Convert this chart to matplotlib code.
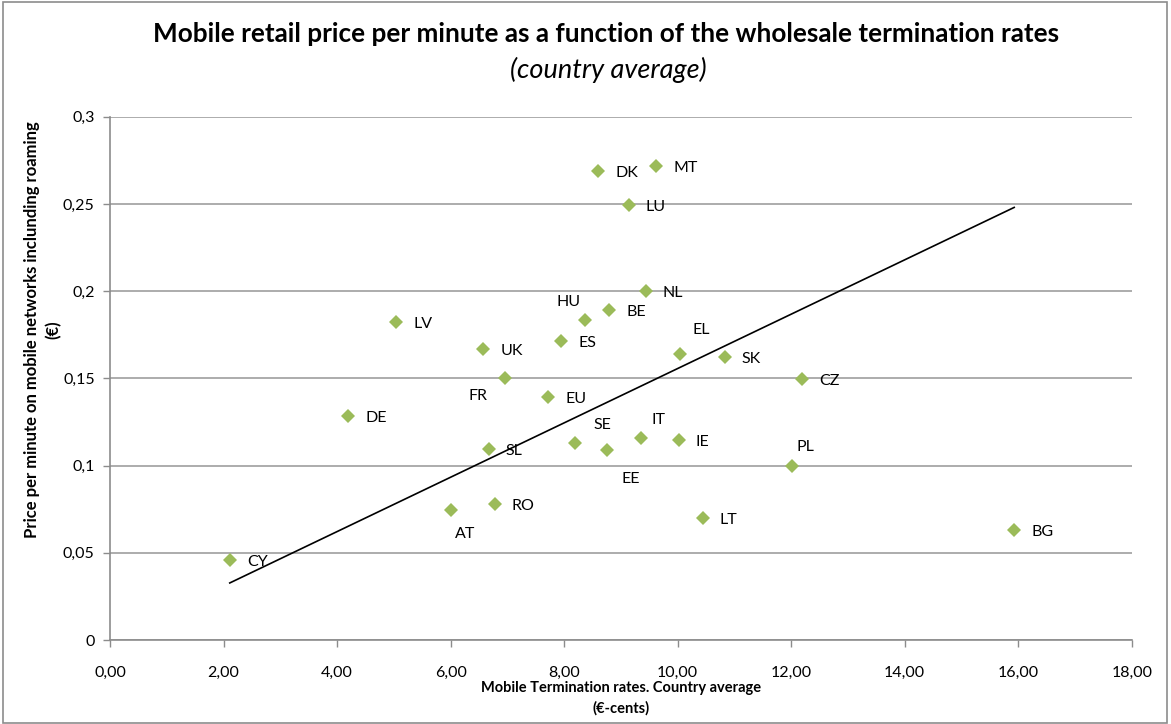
import matplotlib
matplotlib.use("Agg")
import matplotlib.pyplot as plt
from matplotlib.patches import Rectangle
from matplotlib.ticker import FixedLocator

# ---- data ----
countries = ["LV", "UK", "FR", "EU", "DE", "SL", "SE", "HU", "ES", "DK", "MT", "LU", "NL",
             "BE", "EL", "SK", "CZ", "IE", "PL", "LT", "EE", "IT", "AT", "RO", "BG", "CY"]
termination_rates = [5.04, 6.58, 6.96, 7.72, 4.20, 6.67, 8.20, 8.37, 7.95, 8.60, 9.62, 9.14, 9.44,
                     8.80, 10.04, 10.83, 12.20, 10.02, 12.01, 10.44, 8.76, 9.36, 6.01, 6.78, 15.93, 2.11]
retail_prices = [0.1821, 0.1667, 0.1500, 0.1395, 0.1286, 0.1096, 0.1127, 0.1834, 0.1714, 0.2689,
                 0.2716, 0.2492, 0.2001, 0.1890, 0.1641, 0.1622, 0.1494, 0.1145, 0.0997, 0.0697,
                 0.1087, 0.1156, 0.0745, 0.0778, 0.0631, 0.0459]
trend_x = [2.11, 15.93]
trend_y = [0.0327, 0.2480]

x_ticks = [0, 2, 4, 6, 8, 10, 12, 14, 16, 18]
x_tick_labels = ["0,00", "2,00", "4,00", "6,00", "8,00", "10,00", "12,00", "14,00", "16,00", "18,00"]
y_ticks = [0, 0.05, 0.1, 0.15, 0.2, 0.25, 0.3]
y_tick_labels = ["0", "0,05", "0,1", "0,15", "0,2", "0,25", "0,3"]

# ---- label placement (pixel offsets: dx right, dy down; mode) ----
special = {
    "HU": (-17, -18, "center"),
    "FR": (-27, 18, "center"),
    "EL": (21, -24, "center"),
    "SE": (27, -18, "center"),
    "IT": (17, -18, "center"),
    "PL": (14, -19, "center"),
    "EE": (24, 29, "center"),
    "AT": (14, 24, "center"),
}
default_off = (17, 2, "left")

FONT = "Lato"
plt.rcParams["font.family"] = [FONT, "DejaVu Sans"]

fig = plt.figure(figsize=(11.71, 7.24), dpi=100)
W, H = 1171, 724
ax = fig.add_axes([110 / W, 1 - 640 / H, (1131.7 - 110) / W, (640 - 116.7) / H])

# outer chart border
fig.patches.append(Rectangle((3 / W, 1 / H), (1167 - 3) / W, (722 - 1) / H,
                             transform=fig.transFigure, fill=False,
                             edgecolor="#8c8c8c", linewidth=1.2))

ax.set_xlim(0, 18)
ax.set_ylim(0, 0.3)
ax.xaxis.set_major_locator(FixedLocator(x_ticks))
ax.yaxis.set_major_locator(FixedLocator(y_ticks))
ax.set_xticklabels(x_tick_labels, fontsize=11.5)
ax.set_yticklabels(y_tick_labels, fontsize=11.5)
ax.tick_params(axis="both", direction="out", length=5, width=1, color="#8c8c8c", pad=4)
ax.tick_params(axis="x", pad=14)
ax.tick_params(axis="y", pad=6)

for s in ["top", "right"]:
    ax.spines[s].set_visible(False)
for s in ["left", "bottom"]:
    ax.spines[s].set_color("#8c8c8c")
    ax.spines[s].set_linewidth(1.2)

ax.yaxis.grid(True, color="#a6a6a6", linewidth=1.3)
ax.set_axisbelow(True)

ax.plot(trend_x, trend_y, color="black", linewidth=1.2, zorder=2)
ax.plot(termination_rates, retail_prices, linestyle="none", marker="D",
        markersize=7.5, color="#9BBB59", markeredgewidth=0, zorder=3, clip_on=False)

for name, x, y in zip(countries, termination_rates, retail_prices):
    dx, dy, mode = special.get(name, default_off)
    ax.annotate(name, (x, y), xytext=(dx, -dy), textcoords="offset pixels",
                ha="left" if mode == "left" else "center", va="center",
                fontsize=11.5, color="black", zorder=4)

fig.text(606 / W, 1 - 34 / H, "Mobile retail price per minute as a function of the wholesale termination rates",
         ha="center", va="center", fontsize=18.8, fontweight="bold")
fig.text(608 / W, 1 - 70 / H, "(country average)", ha="center", va="center",
         fontsize=19.5, fontstyle="italic")

fig.text(621 / W, 1 - 688 / H, "Mobile Termination rates. Country average", ha="center", va="center",
         fontsize=10.5, fontweight="bold")
fig.text(621 / W, 1 - 708 / H, "(€-cents)", ha="center", va="center",
         fontsize=10.5, fontweight="bold")
fig.text(32 / W, 1 - 330 / H, "Price per minute on mobile networks inclunding roaming",
         ha="center", va="center", rotation=90, fontsize=12, fontweight="bold")
fig.text(53 / W, 1 - 330 / H, "(€)", ha="center", va="center", rotation=90,
         fontsize=12, fontweight="bold")

fig.savefig("out.png", dpi=100)
